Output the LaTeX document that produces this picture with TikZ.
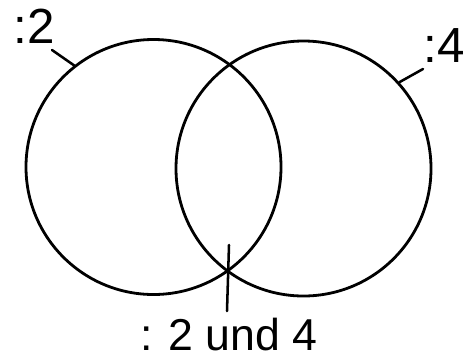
\documentclass[tikz,border=0pt]{standalone}
\usepackage{fontspec}
\setmainfont{Liberation Sans}
\usepackage{tikz}
\usetikzlibrary{positioning,calc}

\begin{document}
\begin{tikzpicture}[x=0.75pt, y=-0.75pt, line width=2.1pt,
    menge/.style={draw, circle, inner sep=0pt, minimum size=191.25pt},
    marke/.style={inner sep=0pt, font=\fontsize{37}{40}\selectfont},
    strich/.style={line width=1.9pt, line cap=round}]
    \useasboundingbox (0,0) rectangle (463,358);
    % the two sets
    \node (zwei) [menge] at (153.5,167) {};
    \node (vier) [menge] at (303.5,168.5) {};
    % labels
    \node (lzwei) [marke, anchor=base west] at (12,43) {:2};
    \node (lvier) [marke, anchor=base west] at (422,62) {:4};
    \node (beide) [marke, anchor=base, font=\fontsize{33.5}{36}\selectfont] at (229,350) {:\,\,2 und 4};
    \coordinate (ezwei) at (52,50);
    \coordinate (evier) at (423,69);
    \coordinate (oben) at (229,245);
    \coordinate (unten) at (227,311);
    \draw[strich] (zwei.128) -- (ezwei);
    \draw[strich] (vier.42) -- (evier);
    \draw[strich] (oben) -- (unten);
  \end{tikzpicture}
\end{document}
